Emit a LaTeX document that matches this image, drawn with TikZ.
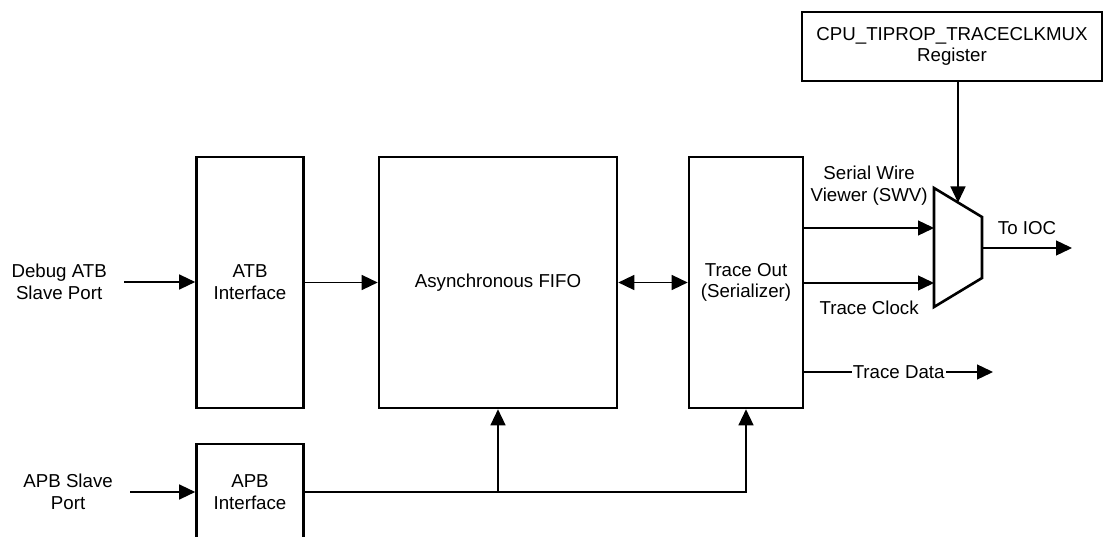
\documentclass[tikz,border=0pt]{standalone}
\usepackage{fontspec}
\setmainfont{Liberation Sans}
\usetikzlibrary{arrows.meta}
\newcommand{\blockfont}{\fontsize{18.7pt}{21.7pt}\selectfont}
\tikzstyle{block} = [
  rectangle,
  minimum width=107pt,
  minimum height=251pt,
  align=center,
  line width=2.6pt,
  draw=black
]
\tikzstyle{port} = [align=center, inner xsep=17pt, inner ysep=0pt]
\tikzstyle{arrow} = [line width=1.3pt,-{Triangle[length=16pt,width=15pt]}]
\tikzstyle{dblarrow} = [line width=1.3pt,{Triangle[length=16pt,width=15pt]}-{Triangle[length=16pt,width=15pt]}]

\begin{document}
\begin{tikzpicture}[x=1pt, y=-1pt, node distance=248pt, font=\blockfont]
    \path[use as bounding box, clip] (0,0) rectangle (1103,537);

    % Bloques principales
    \node (atb) [block] at (250,282.5) {ATB\\Interface};
    \node (fifo) [block, right of=atb, minimum width=238pt] {Asynchronous FIFO};
    \node (trace) [block, right of=fifo, minimum width=114pt] {Trace Out\\(Serializer)};
    \node (apb) [block, below of=atb, yshift=38.5pt, minimum height=96pt] {APB\\Interface};
    \node (reg) [block, minimum width=300pt, minimum height=69pt] at (952,46.5) {CPU\_TIPROP\_TRACECLKMUX\\Register};

    % Puertos de entrada
    \node (atbport) [port, anchor=east] at (124,282) {Debug ATB\\Slave Port};
    \node (apbport) [port, anchor=east] at (130,492) {APB Slave\\Port};

    % Multiplexor
    \coordinate (muxtl) at (934,188);
    \coordinate (muxtr) at (982,217);
    \coordinate (muxbr) at (982,278);
    \coordinate (muxbl) at (934,307);
    \draw [line width=2.6pt] (muxtl) -- (muxtr) -- (muxbr) -- (muxbl) -- cycle;
    \coordinate (swv) at (934,228);
    \coordinate (clk) at (934,283);
    \coordinate (sel) at (958,202.5);
    \coordinate (muxout) at (982,248);
    \coordinate (ioc) at (1072,248);
    \coordinate (tdata) at (993,372);

    % Flechas de entrada
    \draw [arrow] (atbport.east) -- (atb.west |- atbport.east);
    \draw [arrow] (apbport.east) -- (apb.west |- apbport.east);
    \draw [arrow] (atb) -- (fifo);
    \draw [dblarrow] (fifo) -- (trace);

    % Flechas desde APB
    \draw [arrow] (apb) -- (trace.south |- apb) -- (trace.south);
    \draw [arrow] (fifo.south |- apb) -- (fifo.south);

    % Salidas hacia el multiplexor
    \draw [arrow] (trace.east |- swv) -- node[above=19pt, align=center] {Serial Wire\\Viewer (SWV)} (swv);
    \draw [arrow] (trace.east |- clk) -- node[below=14pt] {Trace Clock} (clk);
    \draw [arrow] (reg.south -| sel) -- (sel);
    \draw [arrow] (muxout) -- node[above=9pt] {To IOC} (ioc);
    \draw [arrow] (trace.east |- tdata) -- node[fill=white, inner xsep=1pt, inner ysep=2pt] {Trace Data} (tdata);

\end{tikzpicture}
\end{document}
